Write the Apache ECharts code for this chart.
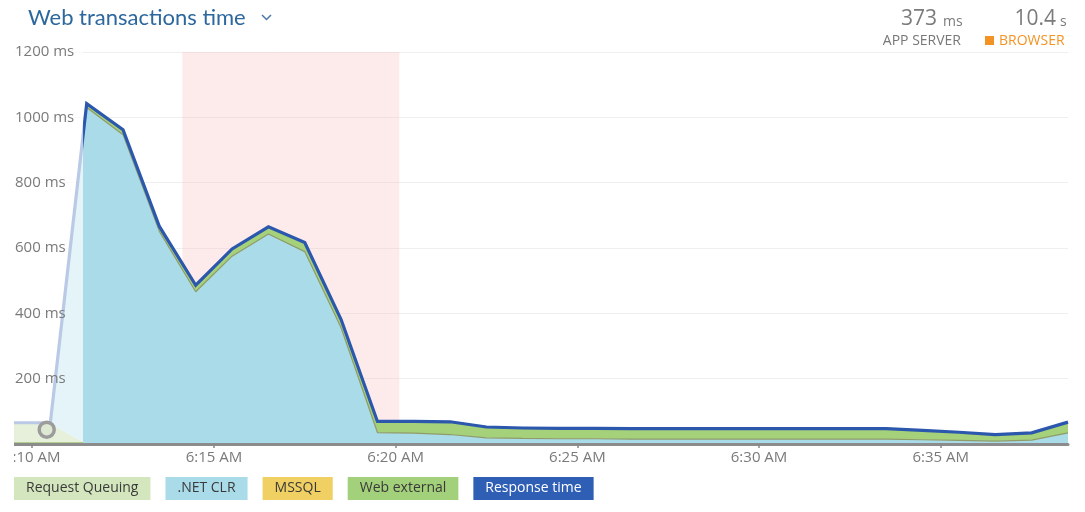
<!DOCTYPE html>
<html>
<head>
<meta charset="utf-8">
<script src="https://cdn.jsdelivr.net/npm/echarts@6/dist/echarts.min.js"></script>
<style>
  html, body { margin: 0; padding: 0; background: #fff; overflow: hidden; }
  #wrap { position: absolute; left: 0; top: 0; width: 1085px; height: 512px; overflow: hidden; }
  #chart { position: absolute; left: 14px; top: 0; width: 1071px; height: 512px; }
</style>
</head>
<body>
<div id="wrap"><div id="chart"></div></div>
<script>
// ---- data ----
const times = ['6:09:30','6:10:30','6:11:30','6:12:30','6:13:30','6:14:30','6:15:30','6:16:30','6:17:30','6:18:30',
               '6:19:30','6:20:30','6:21:30','6:22:30','6:23:30','6:24:30','6:25:30','6:26:30','6:27:30','6:28:30',
               '6:29:30','6:30:30','6:31:30','6:32:30','6:33:30','6:34:30','6:35:30','6:36:30','6:37:30','6:38:30'];
const requestQueuing = [62,62,0,0,0,0,0,0,0,0, 0,0,0,0,0,0,0,0,0,0, 0,0,0,0,0,0,0,0,0,0];
const netClr        = [3,3,1030,947,651,466,575,643,589,356, 35,33,29,19,17,16,16,15,15,15, 15,15,15,15,15,13,11,9,12,34];
const mssql         = [0,0,0,0,0,0,0,0,0,0, 0,0,0,0,0,0,0,0,0,0, 0,0,0,0,0,0,0,0,0,0];
const webExternal   = [0,0,12,15,15,20,22,22,28,25, 34,36,39,33,32,32,32,32,32,32, 32,32,32,32,32,29,25,20,22,33];
const responseTime  = [65,65,1042,962,666,486,597,665,617,381, 69,69,68,52,49,48,48,47,47,47, 47,47,47,47,47,42,36,29,34,67];
const xTickLabels = ['6:10 AM','6:15 AM','6:20 AM','6:25 AM','6:30 AM','6:35 AM'];
const xTickTimes  = ['6:10:00','6:15:00','6:20:00','6:25:00','6:30:00','6:35:00'];
const axisRange = ['6:09:30','6:38:30'];
const incidentWindow = ['6:14:08','6:20:06'];
const fadedWindow = ['6:09:30','6:11:24'];
const handlePoint = ['6:10:24', 44];
const yMax = 1200, yInterval = 200;
const legendNames = ['Request Queuing','.NET CLR','MSSQL','Web external','Response time'];
const legendColors = ['#d4e6bd','#a9dbe8','#f0d062','#a3d07a','#2f5fb5'];
const legendTextColors = ['#3a3a3a','#3a3a3a','#3a3a3a','#3a3a3a','#ffffff'];

// minutes after 6:00
function toMin(t) { const p = t.split(':').map(Number); return (p[0] - 6) * 60 + p[1] + (p[2] || 0) / 60; }
const xs = times.map(toMin);
const pair = arr => xs.map((x, i) => [x, arr[i]]);
// value first so the library stacks the value dimension (x is column 1)
const pairVX = arr => xs.map((x, i) => [arr[i], x]);
const tickMins = xTickTimes.map(toMin);
const labelFor = v => { const i = tickMins.findIndex(m => Math.abs(m - v) < 1e-6); return i >= 0 ? xTickLabels[i] : ''; };

const FONT = '"Open Sans", "Noto Sans", sans-serif';
const TFONT = 'Lato, "Open Sans", sans-serif';
const chart = echarts.init(document.getElementById('chart'));

const areaBase = {
  type: 'line', stack: 'total', symbol: 'none', showSymbol: false, encode: { x: 1, y: 0 },
  lineStyle: { width: 0 }, areaStyle: { opacity: 1 }, z: 2, silent: true,
  emphasis: { disabled: true }
};

chart.setOption({
  animation: false,
  textStyle: { fontFamily: FONT },
  grid: { left: 0, right: 17, top: 52, bottom: 68, containLabel: false, outerBoundsMode: 'none' },
  xAxis: {
    type: 'value', min: toMin(axisRange[0]), max: toMin(axisRange[1]), z: 10,
    axisLine: { lineStyle: { color: '#8c8c8c', width: 3 } },
    axisTick: { show: true, customValues: tickMins, length: 4, lineStyle: { color: '#888', width: 1.5 } },
    axisLabel: { customValues: tickMins, color: '#7a7a7a', fontSize: 15, fontFamily: FONT, margin: 6,
      formatter: v => labelFor(v) },
    splitLine: { show: false }
  },
  yAxis: [{
    type: 'value', min: 0, max: yMax, interval: yInterval, z: 0,
    axisLine: { show: false }, axisTick: { show: false }, axisLabel: { show: false },
    splitLine: { lineStyle: { color: '#efefef', width: 1 } }
  }, {
    type: 'value', min: 0, max: yMax, interval: yInterval, z: 12, position: 'left',
    axisLine: { show: false }, axisTick: { show: false }, splitLine: { show: false },
    axisLabel: { inside: true, margin: 1, color: '#7a7a7a', fontSize: 15, fontFamily: FONT,
      showMinLabel: false, formatter: v => v + ' ms' }
  }],
  legend: {
    left: -5, top: 477, padding: 0, itemGap: 10, itemWidth: 0, itemHeight: 14, icon: 'none', selectedMode: false,
    data: legendNames.map((n, i) => ({
      name: n, icon: 'none',
      textStyle: { backgroundColor: legendColors[i], color: legendTextColors[i], fontSize: 14,
        fontFamily: FONT, padding: [4, 12, 3, 12], lineHeight: 16 }
    }))
  },
  series: [
    Object.assign({}, areaBase, { name: 'Request Queuing', data: pairVX(requestQueuing),
      itemStyle: { color: legendColors[0] }, areaStyle: { color: '#b3d08e', opacity: 1 } }),
    Object.assign({}, areaBase, { name: '.NET CLR', data: pairVX(netClr),
      itemStyle: { color: legendColors[1] }, areaStyle: { color: '#aadbe8', opacity: 1 },
      lineStyle: { width: 1.2, color: '#8f9c6a' },
      markArea: { silent: true, itemStyle: { color: 'rgba(248,190,190,0.32)' },
        data: [[{ xAxis: toMin(incidentWindow[0]) }, { xAxis: toMin(incidentWindow[1]) }]] } }),
    Object.assign({}, areaBase, { name: 'MSSQL', data: pairVX(mssql),
      itemStyle: { color: legendColors[2] }, areaStyle: { color: legendColors[2], opacity: 1 } }),
    Object.assign({}, areaBase, { name: 'Web external', data: pairVX(webExternal),
      itemStyle: { color: legendColors[3] }, areaStyle: { color: '#a5d17b', opacity: 1 } }),
    { name: 'Response time', type: 'line', symbol: 'none', data: pair(responseTime), z: 3, silent: true,
      itemStyle: { color: '#2b57ad' }, lineStyle: { color: '#2b57ad', width: 3.2, join: 'miter' } },
    { name: 'faded', type: 'custom', z: 6, silent: true, encode: { x: [0, 1] },
      data: [[toMin(fadedWindow[0]), toMin(fadedWindow[1])]],
      renderItem: (params, api) => {
        const p0 = api.coord([api.value(0), yMax]);
        const p1 = api.coord([api.value(1), 0]);
        return { type: 'rect', shape: { x: p0[0], y: p0[1], width: p1[0] - p0[0], height: p1[1] - p0[1] - 2 },
                 style: { fill: 'rgba(255,255,255,0.68)' } };
      } },
    { name: 'handle', type: 'scatter', z: 8, silent: true, symbol: 'circle', symbolSize: 15,
      data: [[toMin(handlePoint[0]), handlePoint[1]]],
      itemStyle: { color: '#dfe8d2', borderColor: '#9c9c9c', borderWidth: 3.5, opacity: 1 } }
  ],
  graphic: [
    { type: 'text', x: 14, y: 18, style: { text: 'Web transactions time', fill: '#2c679d',
        font: '22px ' + TFONT, align: 'left', verticalAlign: 'middle' } },
    { type: 'polyline', shape: { points: [[248, 15], [252.5, 19.5], [257, 15]] },
      style: { stroke: '#4a78a8', lineWidth: 1.5, fill: null } },
    { type: 'text', x: 923, y: 19, style: { text: '373', fill: '#7b7b7b', font: '21px ' + FONT, align: 'right', verticalAlign: 'middle' } },
    { type: 'text', x: 929, y: 22, style: { text: 'ms', fill: '#7b7b7b', font: '14px ' + FONT, align: 'left', verticalAlign: 'middle' } },
    { type: 'text', x: 1042, y: 19, style: { text: '10.4', fill: '#7b7b7b', font: '21px ' + FONT, align: 'right', verticalAlign: 'middle' } },
    { type: 'text', x: 1046, y: 22, style: { text: 's', fill: '#7b7b7b', font: '14px ' + FONT, align: 'left', verticalAlign: 'middle' } },
    { type: 'text', x: 947, y: 41, style: { text: 'APP SERVER', fill: '#777777', font: '14px ' + FONT, align: 'right', verticalAlign: 'middle' } },
    { type: 'rect', shape: { x: 971, y: 36, width: 9, height: 9 }, style: { fill: '#f39325' } },
    { type: 'text', x: 985, y: 41, style: { text: 'BROWSER', fill: '#f39325', font: '14px ' + FONT, align: 'left', verticalAlign: 'middle' } }
  ]
});
</script>
</body>
</html>
